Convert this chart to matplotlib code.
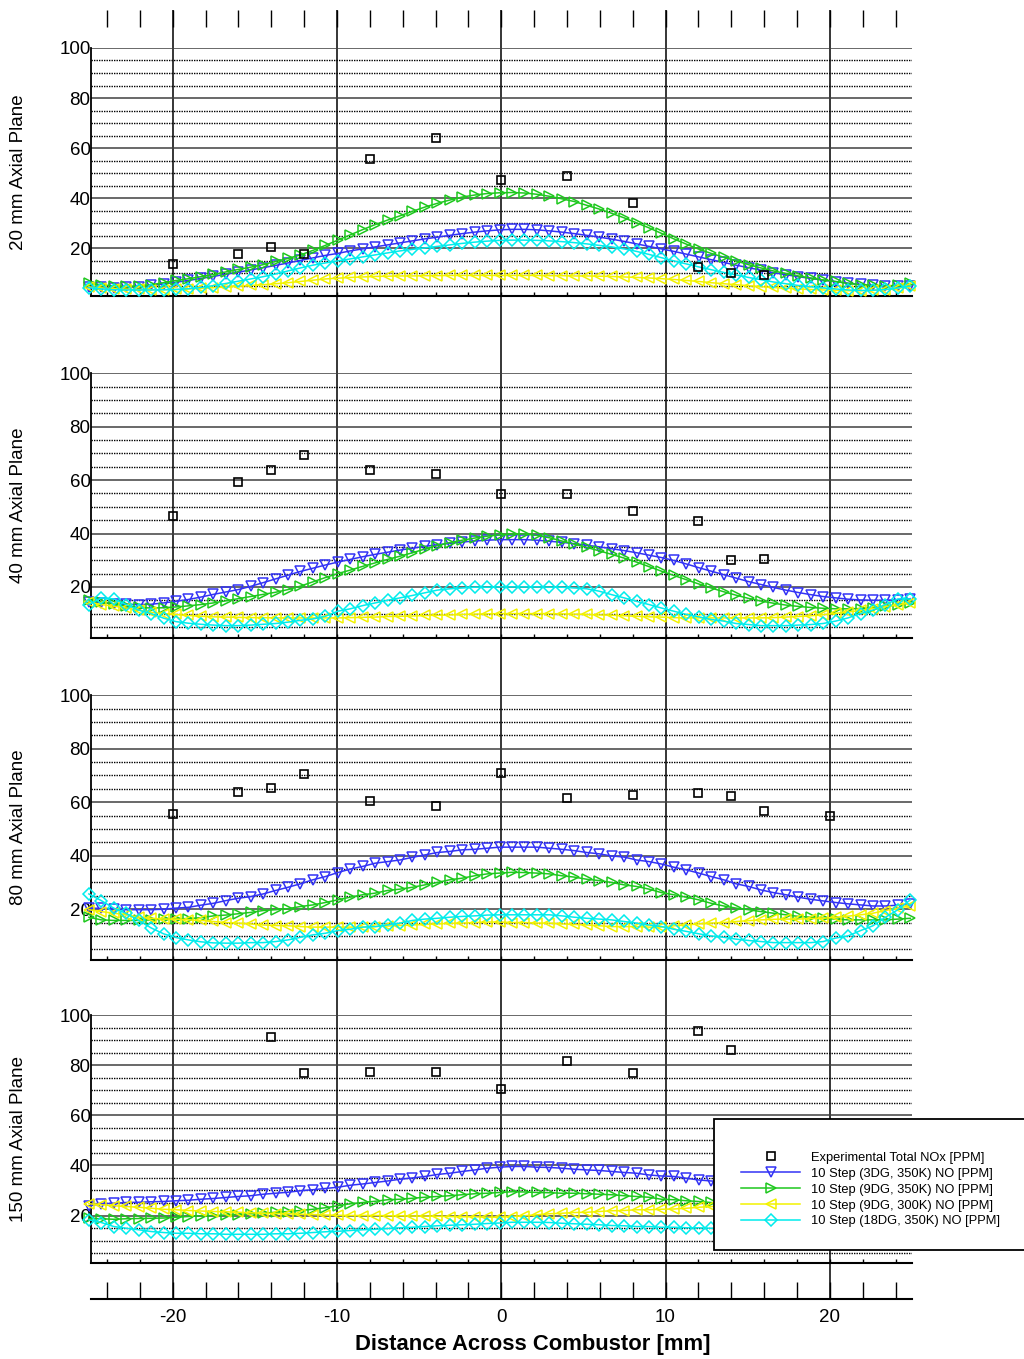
import matplotlib
matplotlib.use('Agg')
import matplotlib.pyplot as plt
import numpy as np
from matplotlib.patches import Rectangle
from matplotlib.ticker import MultipleLocator

plt.rcParams['font.family'] = ['Liberation Sans', 'DejaVu Sans']
plt.rcParams['axes.unicode_minus'] = False

# model grid positions across the combustor [mm]
x_model = np.linspace(-25.1, 24.9, 67)

panel_labels = ['20 mm Axial Plane', '40 mm Axial Plane', '80 mm Axial Plane', '150 mm Axial Plane']
series_labels = ['Experimental Total NOx [PPM]',
                 '10 Step (3DG, 350K) NO [PPM]',
                 '10 Step (9DG, 350K) NO [PPM]',
                 '10 Step (9DG, 300K) NO [PPM]',
                 '10 Step (18DG, 350K) NO [PPM]']

# experimental points
exp_x_20 = [-20, -16, -14, -12, -8, -4, 0, 4, 8, 12, 14, 16]
exp_y_20 = [13.6, 17.6, 20.7, 17.7, 55.8, 63.9, 47.3, 48.9, 38.2, 12.7, 10.0, 9.2]
exp_x_40 = [-20, -16, -14, -12, -8, -4, 0, 4, 8, 12, 14, 16]
exp_y_40 = [46.4, 59.4, 63.7, 69.3, 63.7, 62.2, 54.8, 54.9, 48.5, 44.8, 30.0, 30.6]
exp_x_80 = [-20, -16, -14, -12, -8, -4, 0, 4, 8, 12, 14, 16, 20]
exp_y_80 = [55.5, 63.9, 65.2, 70.5, 60.6, 58.5, 71.0, 61.7, 62.6, 63.6, 62.4, 56.8, 54.9]
exp_x_150 = [-14, -12, -8, -4, 0, 4, 8, 12, 14]
exp_y_150 = [91.2, 77.1, 77.5, 77.5, 70.6, 81.8, 76.9, 93.9, 86.0]

# 20 mm plane
dg3_20 = [4.5, 4.4, 4.3, 4.4, 4.7, 5.2, 5.8, 6.5, 7.2, 8.0,
          8.8, 9.7, 10.5, 11.4, 12.3, 13.2, 14.2, 15.2, 16.2, 17.2,
          18.0, 19.0, 19.8, 20.6, 21.4, 22.2, 23.0, 23.8, 24.5, 25.2,
          25.9, 26.5, 27.0, 27.4, 27.6, 27.6, 27.4, 27.0, 26.5, 25.9,
          25.2, 24.5, 23.7, 22.8, 21.8, 20.8, 19.8, 18.8, 17.7, 16.6,
          15.5, 14.4, 13.3, 12.3, 11.3, 10.3, 9.5, 8.7, 8.0, 7.3,
          6.7, 6.1, 5.6, 5.2, 4.9, 4.8, 5.0]
dg9_20 = [6.0, 5.5, 5.0, 4.8, 5.0, 5.5, 6.3, 7.2, 7.9, 8.7,
          9.6, 10.6, 11.6, 12.5, 13.5, 14.8, 16.0, 17.4, 19.2, 21.2,
          23.3, 25.4, 27.5, 29.5, 31.3, 33.0, 34.8, 36.5, 38.0, 39.3,
          40.5, 41.3, 41.9, 42.2, 42.3, 42.1, 41.6, 40.8, 39.8, 38.7,
          37.2, 35.7, 34.0, 32.2, 30.2, 28.2, 26.0, 23.8, 21.7, 19.7,
          18.0, 16.5, 15.0, 13.5, 12.2, 11.0, 10.0, 9.0, 8.2, 7.4,
          6.8, 6.0, 5.5, 5.2, 5.0, 5.3, 6.0]
dg9c_20 = [4.6, 4.2, 3.9, 3.7, 3.6, 3.5, 3.5, 3.6, 3.8, 4.0,
           4.3, 4.6, 4.9, 5.2, 5.5, 5.9, 6.3, 6.8, 7.3, 7.8,
           8.1, 8.4, 8.6, 8.8, 8.9, 9.0, 9.0, 9.1, 9.1, 9.2,
           9.2, 9.2, 9.2, 9.2, 9.2, 9.2, 9.2, 9.1, 9.1, 9.0,
           9.0, 8.9, 8.8, 8.6, 8.4, 8.2, 7.9, 7.6, 7.2, 6.8,
           6.3, 5.9, 5.5, 5.1, 4.7, 4.4, 4.1, 3.8, 3.6, 3.4,
           3.2, 3.1, 3.1, 3.2, 3.5, 4.0, 5.0]
dg18_20 = [4.3, 3.8, 3.5, 3.4, 3.4, 3.4, 3.5, 3.6, 3.9, 4.4,
           5.1, 6.0, 6.9, 7.8, 8.7, 9.8, 11.0, 12.2, 13.3, 14.2,
           15.0, 15.8, 16.6, 17.4, 18.2, 19.0, 19.6, 20.2, 20.8, 21.4,
           22.0, 22.5, 22.9, 23.2, 23.3, 23.3, 23.2, 23.0, 22.7, 22.3,
           21.8, 21.2, 20.6, 19.8, 18.8, 17.6, 16.3, 15.0, 13.8, 12.6,
           11.5, 10.4, 9.4, 8.4, 7.5, 6.6, 5.9, 5.2, 4.7, 4.2,
           3.8, 3.4, 3.2, 3.3, 3.6, 4.2, 5.0]

# 40 mm plane
dg3_40 = [14.3, 14.0, 13.7, 13.5, 13.4, 13.5, 14.0, 14.6, 15.3, 16.2,
          17.2, 18.1, 19.0, 20.2, 21.6, 23.0, 24.4, 25.8, 27.0, 28.2,
          29.3, 30.3, 31.3, 32.2, 33.0, 33.8, 34.5, 35.2, 35.8, 36.3,
          36.8, 37.2, 37.5, 37.7, 37.7, 37.7, 37.5, 37.1, 36.7, 36.2,
          35.6, 35.0, 34.3, 33.6, 32.8, 31.9, 31.0, 29.9, 28.6, 27.2,
          25.9, 24.6, 23.3, 22.0, 20.9, 19.8, 18.8, 17.9, 17.1, 16.4,
          15.9, 15.4, 15.1, 15.0, 15.0, 15.2, 15.6]
dg9_40 = [15.0, 14.4, 13.6, 12.9, 12.3, 12.1, 12.2, 12.5, 12.9, 13.4,
          14.0, 14.8, 15.6, 16.4, 17.2, 18.0, 19.0, 20.3, 21.9, 23.5,
          25.0, 26.3, 27.7, 29.0, 30.3, 31.5, 32.8, 34.2, 35.5, 36.6,
          37.5, 38.3, 39.0, 39.5, 39.8, 39.8, 39.3, 38.4, 37.2, 36.0,
          34.8, 33.5, 32.2, 30.8, 29.3, 27.6, 25.9, 24.3, 22.7, 21.1,
          19.6, 18.2, 16.9, 15.7, 14.7, 13.9, 13.2, 12.7, 12.3, 12.0,
          11.8, 11.8, 11.9, 12.2, 12.7, 13.3, 14.0]
dg9c_40 = [14.3, 13.4, 12.8, 12.1, 11.3, 10.5, 10.0, 9.7, 9.3, 9.0,
           8.8, 8.7, 8.6, 8.5, 8.5, 8.4, 8.4, 8.4, 8.4, 8.4,
           8.4, 8.5, 8.6, 8.7, 8.9, 9.0, 9.1, 9.3, 9.4, 9.5,
           9.7, 9.8, 9.9, 10.0, 10.0, 10.0, 10.0, 10.0, 9.9, 9.8,
           9.7, 9.5, 9.4, 9.2, 9.0, 8.8, 8.7, 8.5, 8.4, 8.4,
           8.4, 8.4, 8.4, 8.4, 8.4, 8.5, 8.7, 8.9, 9.2, 9.6,
           10.1, 10.6, 11.2, 11.9, 12.6, 13.3, 14.0]
dg18_40 = [13.4, 15.9, 15.5, 13.4, 11.3, 10.0, 8.3, 7.0, 6.4, 6.0,
           5.7, 5.5, 5.5, 5.7, 6.0, 6.3, 6.8, 7.5, 8.0, 9.0,
           10.9, 11.8, 13.0, 14.0, 15.0, 15.9, 16.8, 17.8, 18.8, 19.3,
           19.6, 19.9, 19.9, 20.0, 20.0, 20.0, 20.0, 19.9, 19.9, 19.6,
           19.3, 18.4, 17.1, 15.9, 14.6, 13.4, 12.1, 10.9, 9.7, 8.8,
           7.8, 7.2, 6.3, 5.9, 5.5, 5.5, 5.5, 5.7, 5.9, 6.3,
           7.2, 8.4, 10.0, 11.3, 13.4, 15.5, 15.5]

# 80 mm plane
dg3_80 = [20.4, 20.3, 20.0, 19.8, 19.8, 19.8, 20.0, 20.4, 20.7, 21.5,
          22.2, 23.2, 24.1, 24.7, 25.7, 27.0, 28.2, 29.5, 31.0, 32.2,
          33.7, 35.0, 36.0, 37.2, 37.8, 38.4, 39.4, 40.3, 41.2, 41.6,
          42.2, 42.4, 42.8, 43.2, 43.2, 43.2, 43.2, 42.8, 42.4, 41.9,
          41.2, 40.7, 39.9, 39.5, 38.4, 37.8, 36.9, 35.7, 34.7, 33.5,
          32.2, 31.0, 29.5, 28.5, 27.2, 26.2, 25.4, 24.5, 23.7, 23.1,
          22.5, 22.0, 21.6, 21.2, 21.2, 21.5, 22.0]
dg9_80 = [17.0, 16.0, 15.8, 15.8, 15.8, 16.0, 16.3, 16.4, 16.5, 16.8,
          17.5, 17.8, 18.3, 18.8, 19.5, 19.8, 20.2, 21.0, 21.6, 22.5,
          23.5, 24.5, 25.4, 26.0, 27.0, 27.5, 28.2, 29.1, 30.0, 31.0,
          31.6, 32.5, 33.2, 33.5, 33.8, 33.7, 33.5, 33.2, 32.5, 32.0,
          31.2, 30.7, 30.0, 29.1, 28.5, 27.5, 26.2, 25.4, 24.5, 23.5,
          22.2, 21.2, 20.4, 19.8, 19.1, 18.5, 17.9, 17.3, 17.0, 16.6,
          16.3, 16.0, 16.0, 16.0, 16.0, 16.3, 16.6]
dg9c_80 = [19.8, 19.1, 18.5, 17.9, 17.0, 16.6, 16.3, 16.3, 16.0, 15.8,
           15.4, 15.0, 14.8, 14.5, 14.1, 13.9, 13.8, 13.5, 13.3, 13.3,
           13.3, 13.3, 13.3, 13.5, 13.7, 13.9, 14.1, 14.3, 14.5, 14.7,
           14.8, 15.0, 15.2, 15.2, 15.0, 15.0, 14.8, 14.8, 14.5, 14.3,
           14.1, 13.8, 13.5, 13.5, 13.5, 13.3, 13.3, 13.8, 14.1, 14.5,
           14.8, 15.0, 15.4, 15.7, 16.0, 16.2, 16.3, 16.3, 16.5, 16.6,
           17.0, 17.4, 17.9, 18.5, 19.5, 20.4, 21.2]
dg18_80 = [25.7, 23.2, 20.4, 18.4, 15.8, 13.0, 10.8, 9.4, 8.5, 7.8,
           7.4, 7.3, 7.3, 7.5, 7.5, 7.9, 8.5, 9.5, 10.4, 11.0,
           12.0, 12.5, 13.3, 13.5, 14.1, 14.8, 15.8, 16.3, 16.6, 17.0,
           17.3, 17.5, 17.8, 17.9, 17.9, 17.9, 17.9, 17.9, 17.5, 17.0,
           16.6, 16.3, 16.0, 15.4, 14.8, 14.1, 13.5, 12.5, 11.7, 10.8,
           10.0, 9.5, 8.8, 8.3, 7.9, 7.5, 7.5, 7.5, 7.5, 7.9,
           9.2, 10.0, 12.0, 13.8, 17.0, 19.8, 23.5]

# 150 mm plane
dg3_150 = [23.9, 24.7, 24.9, 25.2, 25.3, 25.5, 25.6, 25.9, 26.1, 26.5,
           26.8, 27.2, 27.6, 27.9, 28.5, 28.9, 29.3, 29.9, 30.3, 30.8,
           31.3, 32.1, 32.6, 33.2, 33.8, 34.5, 35.0, 35.6, 36.4, 36.9,
           37.6, 38.2, 38.9, 39.3, 39.6, 39.6, 39.3, 39.2, 38.9, 38.5,
           38.2, 38.0, 37.6, 37.2, 36.9, 36.2, 35.8, 35.6, 34.9, 34.2,
           33.8, 33.3, 32.8, 32.3, 31.8, 31.2, 30.7, 30.1, 29.6, 29.1,
           28.6, 28.2, 27.8, 27.5, 27.2, 27.0, 26.8]
dg9_150 = [18.9, 18.7, 18.5, 18.7, 18.8, 18.9, 19.0, 19.3, 19.6, 19.9,
           20.0, 20.2, 20.4, 20.7, 20.9, 21.3, 21.6, 22.0, 22.5, 23.1,
           23.9, 24.7, 25.2, 25.7, 26.3, 26.5, 26.9, 27.3, 27.6, 27.9,
           28.3, 28.7, 28.9, 29.2, 29.5, 29.4, 29.2, 29.1, 28.9, 28.9,
           28.7, 28.5, 28.3, 27.9, 27.6, 27.3, 26.5, 26.3, 25.9, 25.6,
           25.2, 24.9, 24.6, 24.3, 24.0, 23.7, 23.4, 23.1, 22.8, 22.5,
           22.3, 22.1, 21.9, 21.7, 21.6, 21.5, 21.4]
dg9c_150 = [24.7, 24.3, 23.9, 23.6, 23.3, 22.9, 22.5, 22.3, 22.0, 21.8,
            21.6, 21.5, 21.3, 21.1, 20.9, 20.8, 20.7, 20.5, 20.4, 20.2,
            20.1, 20.0, 20.0, 20.0, 19.9, 19.9, 19.8, 19.8, 19.7, 19.6,
            19.5, 19.5, 19.3, 19.4, 19.6, 19.9, 20.3, 20.7, 20.9, 21.2,
            21.3, 21.6, 21.9, 22.0, 22.3, 22.3, 22.5, 22.6, 22.9, 23.3,
            23.6, 23.8, 24.0, 24.2, 24.4, 24.5, 24.6, 24.7, 24.8, 24.8,
            24.9, 24.9, 25.0, 25.0, 25.0, 25.0, 25.0]
dg18_150 = [18.3, 17.2, 15.6, 14.9, 14.3, 13.6, 13.2, 12.9, 12.9, 12.7,
            12.7, 12.5, 12.5, 12.5, 12.5, 12.7, 12.7, 12.9, 13.2, 13.5,
            13.7, 14.0, 14.3, 14.5, 14.8, 15.1, 15.3, 15.6, 15.9, 16.1,
            16.3, 16.5, 16.8, 17.0, 17.3, 17.3, 17.3, 17.2, 16.9, 16.7,
            16.5, 16.3, 16.0, 15.9, 15.6, 15.6, 15.3, 15.3, 15.1, 15.1,
            14.9, 14.8, 14.7, 14.6, 14.5, 14.5, 14.4, 14.4, 14.4, 14.5,
            14.6, 14.8, 15.1, 15.5, 16.0, 16.6, 17.3]

exp_x = [exp_x_20, exp_x_40, exp_x_80, exp_x_150]
exp_y = [exp_y_20, exp_y_40, exp_y_80, exp_y_150]
models = [[dg3_20, dg9_20, dg9c_20, dg18_20],
          [dg3_40, dg9_40, dg9c_40, dg18_40],
          [dg3_80, dg9_80, dg9c_80, dg18_80],
          [dg3_150, dg9_150, dg9c_150, dg18_150]]

colors = ['#3333f5', '#1ec81e', '#f2f200', '#00ecec']
markers = ['v', '>', '<', 'D']
msizes = [7.3, 7.3, 7.3, 6.0]

fig = plt.figure(figsize=(10.24, 13.59), dpi=100)

# background axis: shared x scale, vertical lines and outer ticks
bg = fig.add_axes([0.0884, 0.0442, 0.8022, 0.9484], zorder=-1)
bg.set_xlim(-25, 25)
bg.set_ylim(0, 1)
bg.set_yticks([])
for s in ['left', 'right', 'top']:
    bg.spines[s].set_visible(False)
bg.spines['bottom'].set_linewidth(1.5)
bg.set_xticks([-20, -10, 0, 10, 20])
bg.xaxis.set_minor_locator(MultipleLocator(2))
bg.tick_params(axis='x', which='both', direction='in', length=12.5, width=1.0,
               top=True, bottom=True, labelsize=13.5, pad=7)
for xv in [-20, -10, 0, 10, 20]:
    bg.axvline(xv, color='black', lw=1.1)

# panel positions [left, bottom, width, height]
pos = [[0.0884, 0.7822, 0.8022, 0.1825],
       [0.0884, 0.5308, 0.8022, 0.1945],
       [0.0884, 0.2936, 0.8022, 0.1948],
       [0.0884, 0.0706, 0.8022, 0.1823]]

handles = []
for k in range(4):
    ax = fig.add_axes(pos[k])
    ax.set_facecolor('none')
    ax.set_xlim(-25, 25)
    ax.set_ylim(1, 100)
    ax.spines['top'].set_visible(False)
    ax.spines['right'].set_visible(False)
    ax.spines['left'].set_linewidth(1.3)
    ax.spines['bottom'].set_linewidth(1.5)
    ax.set_yticks([20, 40, 60, 80, 100])
    ax.set_yticks(range(5, 100, 5), minor=True)
    ax.yaxis.grid(True, which='major', color='#404040', lw=1.1, ls='-')
    ax.yaxis.grid(True, which='minor', color='#000000', lw=1.0, ls=(0, (1, 0.8)))
    ax.tick_params(axis='y', which='both', length=0, pad=0, labelsize=13.5)
    ax.set_xticks(range(-24, 25, 2))
    ax.tick_params(axis='x', direction='in', length=3, width=1.0, labelbottom=False)
    ax.set_axisbelow(True)

    h0, = ax.plot(exp_x[k], exp_y[k], ls='none', marker='s', ms=6.4, mfc='none',
                  mec='black', mew=1.2, clip_on=False, zorder=5)
    hs = [h0]
    for j in range(4):
        h, = ax.plot(x_model, models[k][j], color=colors[j], lw=1.1,
                     marker=markers[j], ms=msizes[j], mfc='none', mec=colors[j],
                     mew=1.1, clip_on=False, zorder=3 + j * 0.1)
        hs.append(h)
    if k == 0:
        handles = hs

    cy = pos[k][1] + pos[k][3] / 2
    fig.text(0.0176, cy, panel_labels[k], rotation=90, ha='center', va='center',
             fontsize=13.5)

fig.text(0.5205, 0.0105, 'Distance Across Combustor [mm]', ha='center',
         va='center', fontsize=15.8, fontweight='bold')

# legend box
box = Rectangle((0.6973, 0.0802), 0.35, 0.0964, transform=fig.transFigure,
                facecolor='white', edgecolor='black', lw=1.3, zorder=4)
fig.add_artist(box)
fig.legend(handles, series_labels, loc='upper left',
           bbox_to_anchor=(0.7236, 0.1525), frameon=False, fontsize=9.3,
           handlelength=4.6, handletextpad=0.8, labelspacing=0.3,
           borderpad=0, borderaxespad=0, numpoints=1)

fig.savefig('out.png', dpi=100, facecolor='white')
